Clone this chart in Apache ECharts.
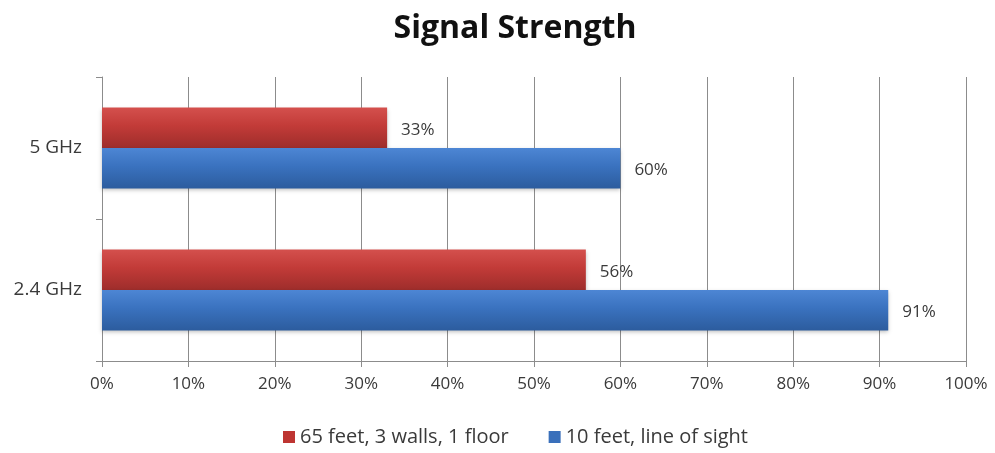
<!DOCTYPE html>
<html>
<head>
<meta charset="utf-8">
<script src="https://cdn.jsdelivr.net/npm/echarts@6/dist/echarts.min.js"></script>
<style>
  html, body { margin: 0; padding: 0; background: #fff; }
  #chart { width: 995px; height: 453px; }
</style>
</head>
<body>
<div id="chart"></div>
<script>
// Wi-Fi signal strength by band, measured at two distances
const categories = ['5 GHz', '2.4 GHz'];
const farValues = [33, 56];    // 65 feet, 3 walls, 1 floor
const nearValues = [60, 91];   // 10 feet, line of sight
const seriesNames = ['65 feet, 3 walls, 1 floor', '10 feet, line of sight'];
const axisTicks = [0, 10, 20, 30, 40, 50, 60, 70, 80, 90, 100];

const font = '"Open Sans", sans-serif';
const textColor = '#3a3a3a';
const numberSize = 17;
const wordSize = 19;

function grad(top, mid, bottom) {
  return new echarts.graphic.LinearGradient(0, 0, 0, 1, [
    { offset: 0, color: top },
    { offset: 0.45, color: mid },
    { offset: 1, color: bottom }
  ]);
}

const chart = echarts.init(document.getElementById('chart'));
chart.setOption({
  animation: false,
  backgroundColor: '#fff',
  title: {
    text: 'Signal Strength',
    left: 510,
    textAlign: 'center',
    top: 8,
    textStyle: { fontFamily: font, fontWeight: 'bold', fontSize: 32, color: '#111' }
  },
  legend: {
    bottom: 1,
    left: 278,
    itemWidth: 12,
    itemHeight: 12,
    itemGap: 40,
    icon: 'rect',
    textStyle: { fontFamily: font, fontSize: 20, color: textColor },
    data: [
      { name: seriesNames[0], itemStyle: { color: '#be3532' } },
      { name: seriesNames[1], itemStyle: { color: '#3a70bb' } }
    ]
  },
  grid: { left: 102, right: 29, top: 77, bottom: 92 },
  xAxis: {
    type: 'value',
    min: axisTicks[0],
    max: axisTicks[axisTicks.length - 1],
    interval: 10,
    axisLine: { show: true, lineStyle: { color: '#8c8c8c' } },
    axisTick: { show: true, length: 6, lineStyle: { color: '#8c8c8c' } },
    axisLabel: {
      margin: 15,
      fontFamily: font, fontSize: numberSize, color: textColor,
      formatter: v => v + '%'
    },
    splitLine: { show: true, lineStyle: { color: '#8c8c8c', width: 1 } }
  },
  yAxis: {
    type: 'category',
    inverse: true,
    data: categories,
    axisLine: { show: true, lineStyle: { color: '#8c8c8c' } },
    axisTick: { show: true, length: 6, lineStyle: { color: '#8c8c8c' } },
    axisLabel: { margin: 20, fontFamily: font, fontSize: wordSize, color: textColor },
    splitLine: { show: false }
  },
  series: [
    {
      name: seriesNames[0],
      type: 'bar',
      data: farValues,
      barGap: '0%',
      barCategoryGap: '43%',
      itemStyle: {
        color: grad('#d4504d', '#c23b38', '#9e2d2b'),
        shadowColor: 'rgba(0,0,0,0.25)', shadowBlur: 4, shadowOffsetY: 2
      },
      label: {
        show: true, position: 'right', distance: 14, offset: [0, 2],
        fontFamily: font, fontSize: numberSize, color: textColor,
        formatter: p => p.value + '%'
      }
    },
    {
      name: seriesNames[1],
      type: 'bar',
      data: nearValues,
      barGap: '0%',
      barCategoryGap: '43%',
      itemStyle: {
        color: grad('#4d86d4', '#3a72bf', '#2c5c9e'),
        shadowColor: 'rgba(0,0,0,0.25)', shadowBlur: 4, shadowOffsetY: 2
      },
      label: {
        show: true, position: 'right', distance: 14, offset: [0, 2],
        fontFamily: font, fontSize: numberSize, color: textColor,
        formatter: p => p.value + '%'
      }
    }
  ]
});
</script>
</body>
</html>
